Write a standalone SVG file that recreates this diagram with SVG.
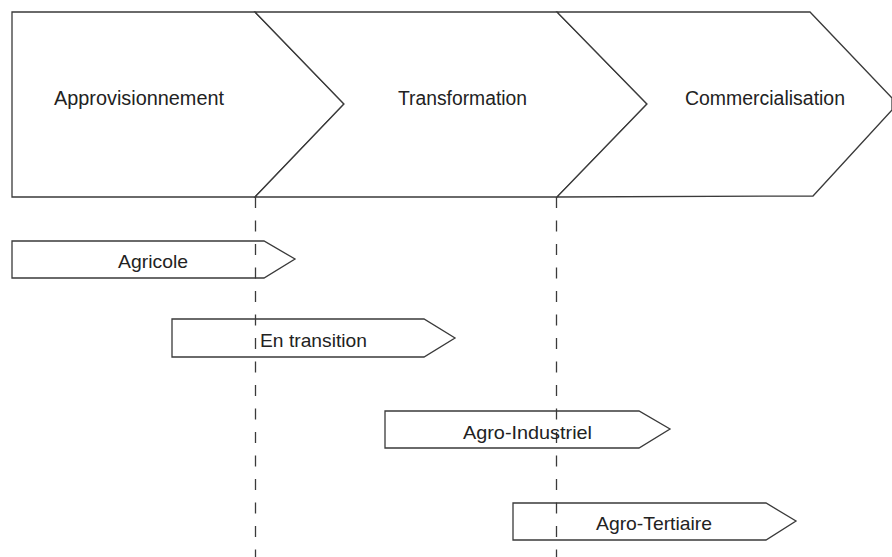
<svg xmlns="http://www.w3.org/2000/svg" width="892" height="557" viewBox="0 0 892 557">
  <style>
    .shape { fill: #ffffff; stroke: #3a3a3a; stroke-width: 1.3; stroke-linejoin: miter; }
    .guide { fill: none; stroke: #3a3a3a; stroke-width: 1.3; stroke-dasharray: 11 12.5; }
    .lbl { font-family: "Liberation Sans", Arial, sans-serif; fill: #222222; }
    .big { font-size: 20px; }
    .small { font-size: 19px; }
  </style>
  <rect width="892" height="557" fill="#ffffff"/>

  <!-- value-chain stages -->
  <g id="stage-approvisionnement">
    <polygon class="shape" points="12,12 255,12 344,104 255,197 12,197"/>
    <text class="lbl big" x="54" y="105" textLength="170" lengthAdjust="spacingAndGlyphs">Approvisionnement</text>
  </g>
  <g id="stage-transformation">
    <polygon class="shape" points="255,12 557,12 647,104 557,197 255,197 344,104"/>
    <text class="lbl big" x="398" y="105" textLength="129" lengthAdjust="spacingAndGlyphs">Transformation</text>
  </g>
  <g id="stage-commercialisation">
    <polygon class="shape" points="557,12 810,12 892,98 892,110 813,196 557,197 647,104"/>
    <text class="lbl big" x="685" y="105" textLength="160" lengthAdjust="spacingAndGlyphs">Commercialisation</text>
  </g>

  <!-- stage boundaries -->
  <g id="connectors">
    <line class="guide" x1="255.5" y1="197" x2="255.5" y2="557"/>
    <line class="guide" x1="556.5" y1="197" x2="556.5" y2="557"/>
  </g>

  <!-- firm types -->
  <g id="type-agricole">
    <polygon class="shape" points="12,241 264,241 295,259 264,278 12,278" fill-opacity="0"/>
    <text class="lbl small" x="118" y="268" textLength="70" lengthAdjust="spacingAndGlyphs">Agricole</text>
  </g>
  <g id="type-en-transition">
    <polygon class="shape" points="172,319 424,319 455,338 424,357 172,357" fill-opacity="0"/>
    <text class="lbl small" x="260" y="347" textLength="107" lengthAdjust="spacingAndGlyphs">En transition</text>
  </g>
  <g id="type-agro-industriel">
    <polygon class="shape" points="385,411 639,411 670,429 639,448 385,448" fill-opacity="0"/>
    <text class="lbl small" x="463" y="439" textLength="129" lengthAdjust="spacingAndGlyphs">Agro-Industriel</text>
  </g>
  <g id="type-agro-tertiaire">
    <polygon class="shape" points="513,503 766,503 796,521 766,540 513,540" fill-opacity="0"/>
    <text class="lbl small" x="596" y="530" textLength="116" lengthAdjust="spacingAndGlyphs">Agro-Tertiaire</text>
  </g>
</svg>
